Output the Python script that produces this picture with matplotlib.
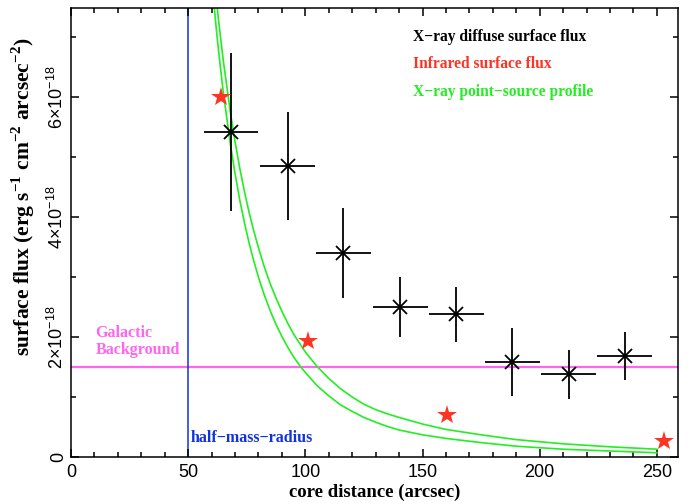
import numpy as np
import matplotlib
matplotlib.use("Agg")
from matplotlib import pyplot as plt
from matplotlib.ticker import MultipleLocator, FixedLocator, FixedFormatter

plt.rcParams['mathtext.fontset'] = 'custom'
plt.rcParams['mathtext.rm'] = 'Liberation Sans'
plt.rcParams['mathtext.it'] = 'Liberation Sans:italic'
plt.rcParams['mathtext.bf'] = 'Liberation Serif:bold'

# X-ray diffuse surface flux (units of 1e-18 erg s^-1 cm^-2 arcsec^-2)
xray_r = [68.3, 92.4, 116.2, 140.5, 164.4, 188.3, 212.4, 236.3]
xray_rerr = [11.7, 11.7, 11.7, 11.7, 11.7, 11.7, 11.7, 11.7]
xray_f = [5.42, 4.86, 3.40, 2.50, 2.38, 1.58, 1.38, 1.68]
xray_ferr = [1.32, 0.90, 0.75, 0.50, 0.455, 0.57, 0.41, 0.40]

# infrared surface flux
ir_r = [64.0, 101.3, 160.3, 253.1]
ir_f = [6.00, 1.94, 0.70, 0.27]

# X-ray point-source profile (two curves)
prof_r = [58, 60, 62, 63, 65, 68, 70, 72, 74, 76, 78, 80, 82.5, 85, 87.5, 90,
          92.5, 95, 97.5, 100, 105, 110, 115, 120, 125, 130, 135, 140, 150, 160,
          175, 190, 210, 230, 250]
prof_lo = [8.95, 7.98, 7.14, 6.76, 6.08, 5.22, 4.73, 4.29, 3.91, 3.57, 3.27, 3.00,
           2.70, 2.44, 2.21, 2.01, 1.83, 1.67, 1.53, 1.41, 1.19, 1.02, 0.87, 0.76,
           0.66, 0.58, 0.51, 0.45, 0.37, 0.31, 0.24, 0.18, 0.13, 0.10, 0.07]
prof_hi = [9.39, 8.45, 7.65, 7.27, 6.61, 5.75, 5.26, 4.82, 4.43, 4.08, 3.77, 3.49,
           3.17, 2.89, 2.65, 2.43, 2.23, 2.05, 1.90, 1.75, 1.51, 1.31, 1.14, 1.00,
           0.88, 0.79, 0.72, 0.66, 0.55, 0.46, 0.37, 0.29, 0.22, 0.17, 0.13]

galactic_bg = 1.5
half_mass_radius = 50

ytick_vals = [0, 2, 4, 6]
ytick_labels = ['0', r'$2{\times}10^{-18}$', r'$4{\times}10^{-18}$', r'$6{\times}10^{-18}$']

serif = 'Liberation Serif'
green = '#22ee22'
red = '#ff3322'
magenta = '#ff66ee'
blue = '#1133dd'

fig = plt.figure(figsize=(6.96, 5.04), dpi=100)
ax = fig.add_axes([71/696, 1 - 457/504, (678-71)/696, (457-7.5)/504])

ax.plot(prof_r, prof_lo, color=green, lw=1.2, zorder=2)
ax.plot(prof_r, prof_hi, color=green, lw=1.2, zorder=2)

ax.axhline(galactic_bg, color=magenta, lw=1.6, zorder=1)
ax.axvline(half_mass_radius, color=blue, lw=1.1, zorder=1)

ax.errorbar(xray_r, xray_f, xerr=xray_rerr, yerr=xray_ferr, fmt='x', color='black',
            ms=10, mew=1.3, elinewidth=1.3, capsize=0, zorder=3)
ax.plot(ir_r, ir_f, '*', color=red, ms=15, mew=0, zorder=4)

ax.set_xlim(0, 259)
ax.set_ylim(0, 7.5)

ax.xaxis.set_major_locator(MultipleLocator(50))
ax.xaxis.set_minor_locator(MultipleLocator(10))
ax.yaxis.set_major_locator(FixedLocator(ytick_vals))
ax.yaxis.set_major_formatter(FixedFormatter(ytick_labels))
ax.yaxis.set_minor_locator(MultipleLocator(1))
ax.tick_params(which='both', direction='in', top=True, right=True, width=1.1)
ax.tick_params(which='major', length=6)
ax.tick_params(which='minor', length=3.5)
ax.tick_params(axis='x', labelsize=13, pad=5)
ax.tick_params(axis='y', labelsize=13, pad=3)
for lab in ax.get_xticklabels() + ax.get_yticklabels():
    lab.set_family('Liberation Sans')
for lab in ax.get_yticklabels():
    lab.set_rotation(90)
    lab.set_va('center')
for sp in ax.spines.values():
    sp.set_linewidth(1.1)

ax.set_xlabel('core distance (arcsec)', family=serif, weight='bold', fontsize=13.5, labelpad=2)
ax.set_ylabel(r'surface flux (erg s$^{\mathbf{-1}}$ cm$^{\mathbf{-2}}$ arcsec$^{\mathbf{-2}}$)',
              family=serif, weight='bold', fontsize=15.5)
ax.yaxis.set_label_coords(-0.056, 0.58)

ax.text(0.5634, 0.934, 'X\u2212ray diffuse surface flux', transform=ax.transAxes,
        family=serif, weight='bold', fontsize=11.2, color='black', va='center')
ax.text(0.5634, 0.874, 'Infrared surface flux', transform=ax.transAxes,
        family=serif, weight='bold', fontsize=11.2, color=red, va='center')
ax.text(0.5634, 0.812, 'X\u2212ray point\u2212source profile', transform=ax.transAxes,
        family=serif, weight='bold', fontsize=11.2, color=green, va='center')

ax.text(10.5, 1.925, 'Galactic\nBackground', family=serif, weight='bold', fontsize=11.5,
        color=magenta, va='center', linespacing=1.05)
ax.text(51.2, 0.32, 'half\u2212mass\u2212radius', family=serif, weight='bold',
        fontsize=11.5, color=blue, va='center')

fig.savefig('out.png', dpi=100)
